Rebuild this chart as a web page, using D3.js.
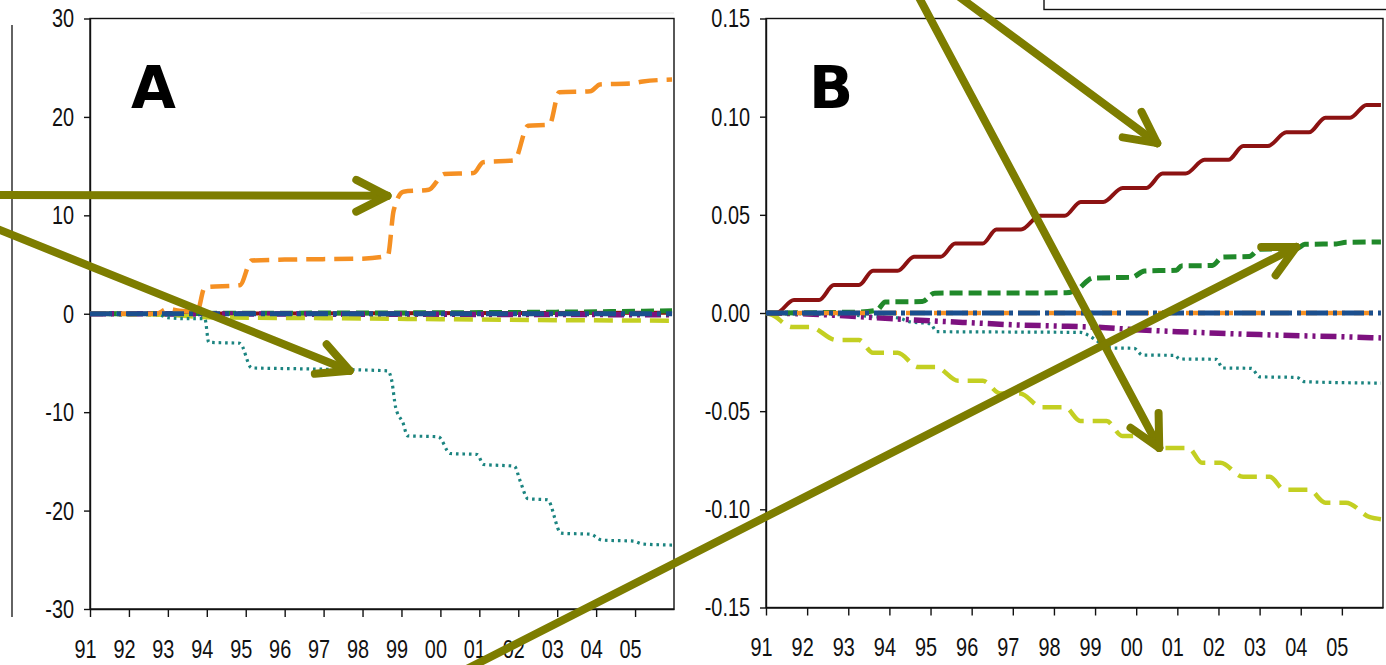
<!DOCTYPE html>
<html>
<head>
<meta charset="utf-8">
<script src="https://cdnjs.cloudflare.com/ajax/libs/d3/7.8.5/d3.min.js"></script>
<style>
    html, body { margin: 0; padding: 0; background: #fff; }
    svg { display: block; }
    .tick text { font-family: "Liberation Sans", Arial, sans-serif; font-size: 26.5px; fill: #111; }
    .tick line, .domain { stroke: #111; stroke-width: 1.4; }
    .frame { fill: none; stroke: #111; stroke-width: 1.4; }
    .panel-letter { font-family: "DejaVu Sans", sans-serif; font-weight: bold; font-size: 58px; fill: #000; }
    .arrow { stroke: #7d7d00; stroke-width: 8; stroke-linecap: round; fill: none; }
    .series { fill: none; stroke-linejoin: round; }
</style>
</head>
<body>
<svg id="chart" width="1386" height="665"></svg>
<script>
// tick years and their labels (shared by both panels)
const tickYears = [1991, 1992, 1993, 1994, 1995, 1996, 1997, 1998, 1999, 2000, 2001, 2002, 2003, 2004, 2005];
const tickLabels = ['91', '92', '93', '94', '95', '96', '97', '98', '99', '00', '01', '02', '03', '04', '05'];

const ticksA = [-30, -20, -10, 0, 10, 20, 30];
const ticksB = [-0.15, -0.10, -0.05, 0.00, 0.05, 0.10, 0.15];

// panel A: [year, value]
const aOrange = [[1991, 0], [1992.7, 0], [1993.0, 0.5], [1993.3, 0.3], [1993.75, 0.2], [1993.95, 2.7], [1994.85, 2.9],
    [1995.15, 5.4], [1996, 5.5], [1998.0, 5.6], [1998.65, 5.9], [1998.8, 10.5], [1999.05, 12.4], [1999.7, 12.6],
    [2000.1, 14.2], [2000.85, 14.3], [2001.1, 15.4], [2001.9, 15.6], [2002.25, 19.1], [2002.8, 19.2], [2003.05, 22.5],
    [2003.85, 22.6], [2004.1, 23.3], [2004.9, 23.4], [2005.2, 23.6], [2005.95, 23.8]];
const aTeal = [[1991, 0], [1992.7, 0], [1993.0, -0.4], [1993.5, -0.5], [1993.95, -0.5], [1994.05, -2.9], [1994.85, -3.0],
    [1995.15, -5.5], [1996.5, -5.6], [1998.65, -5.8], [1998.75, -6.8], [1998.85, -9.5], [1999.05, -11.2], [1999.15, -12.4],
    [1999.95, -12.5], [2000.25, -14.2], [2000.95, -14.3], [2001.1, -15.3], [2001.9, -15.5], [2002.05, -17.0],
    [2002.25, -18.8], [2002.75, -18.9], [2003.1, -22.3], [2003.85, -22.4], [2004.15, -23.0], [2004.95, -23.1],
    [2005.2, -23.4], [2005.95, -23.5]];
const aYellow = [[1991, 0], [1993, -0.1], [1994, -0.35], [1997, -0.45], [2000, -0.55], [2003, -0.65], [2005.95, -0.7]];
const aGreen = [[1991, 0], [1995, 0.05], [2000, 0.1], [2004, 0.2], [2005.95, 0.3]];
const aRed = [[1991, 0], [2005.95, 0.1]];
const aPurple = [[1991, 0], [2005.95, -0.1]];
const aBlue = [[1991, 0], [2005.95, 0]];

// panel B: [year, value]
const bRed = [[1991, 0], [1991.25, 0], [1991.68, 0.0066], [1992.29, 0.0066], [1992.65, 0.0142], [1993.26, 0.0142],
    [1993.6, 0.0215], [1994.2, 0.0215], [1994.6, 0.0287], [1995.25, 0.0287], [1995.6, 0.0354], [1996.27, 0.0354],
    [1996.6, 0.0425], [1997.2, 0.0425], [1997.66, 0.0495], [1998.26, 0.0495], [1998.65, 0.0566], [1999.2, 0.0566],
    [1999.67, 0.0637], [2000.25, 0.0637], [2000.64, 0.071], [2001.2, 0.071], [2001.66, 0.078], [2002.24, 0.078],
    [2002.6, 0.085], [2003.2, 0.085], [2003.65, 0.092], [2004.2, 0.092], [2004.6, 0.0995], [2005.2, 0.0995],
    [2005.6, 0.106], [2005.95, 0.106]];
const bYellow = [[1991, 0], [1991.15, -0.001], [1991.63, -0.0071], [1992.07, -0.0071], [1992.7, -0.0137], [1993.26, -0.0137],
    [1993.6, -0.0203], [1994.2, -0.0203], [1994.7, -0.0275], [1995.13, -0.0275], [1995.67, -0.0345], [1996.27, -0.0345],
    [1996.7, -0.041], [1997.18, -0.041], [1997.7, -0.048], [1998.27, -0.048], [1998.64, -0.055], [1999.28, -0.055],
    [1999.66, -0.0626], [2000.2, -0.0626], [2000.56, -0.0687], [2001.27, -0.0687], [2001.6, -0.0763], [2002.05, -0.0763],
    [2002.6, -0.0834], [2003.25, -0.0834], [2003.6, -0.09], [2004.2, -0.09], [2004.6, -0.0966], [2005.1, -0.0966],
    [2005.68, -0.104], [2005.95, -0.105]];
const bGreen = [[1991, 0], [1993.3, 0.0005], [1993.7, 0.0015], [1993.9, 0.0056], [1994.8, 0.0058], [1995.1, 0.0101],
    [1998.3, 0.0103], [1998.55, 0.0117], [1998.95, 0.0178], [1999.9, 0.0182], [2000.2, 0.0214], [2000.98, 0.0218],
    [2001.1, 0.024], [2001.85, 0.0242], [2002.1, 0.0285], [2002.75, 0.0288], [2003.0, 0.0325], [2003.9, 0.0328],
    [2004.1, 0.035], [2004.86, 0.0352], [2005.1, 0.036], [2005.95, 0.0362]];
const bTeal = [[1991, 0], [1992, -0.0005], [1993, -0.001], [1993.7, -0.002], [1994.2, -0.0025], [1994.5, -0.0045],
    [1995.0, -0.0055], [1995.15, -0.0095], [1997, -0.0097], [1998.65, -0.0099], [1998.85, -0.0115], [1999.1, -0.015],
    [1999.4, -0.0178], [1999.95, -0.018], [2000.15, -0.0214], [2000.95, -0.0216], [2001.05, -0.0234], [2001.95, -0.0236],
    [2002.1, -0.028], [2002.8, -0.0282], [2003.0, -0.0325], [2003.9, -0.0328], [2004.1, -0.035], [2005.95, -0.0357]];
const bPurple = [[1991, 0], [1992, -0.0005], [1993, -0.0015], [1994, -0.0028], [1995, -0.004], [1996, -0.005],
    [1997, -0.006], [1998, -0.0066], [1999, -0.0072], [2000, -0.0085], [2001, -0.0095], [2002, -0.0103],
    [2003, -0.011], [2004, -0.0116], [2005, -0.0121], [2005.95, -0.0127]];
const bOrange = [[1991, 0], [2005.95, 0]];
const bBlue = [[1991, 0], [2005.95, 0]];

const styles = {
    red:    { color: '#8c1212', width: 4, dash: null },
    orange: { color: '#f59023', width: 4.5, dash: '19,9' },
    teal:   { color: '#1b8480', width: 3.2, dash: '2.6,3.9' },
    yellow: { color: '#c3cf22', width: 4.5, dash: '19,9' },
    green:  { color: '#20892a', width: 5, dash: '13,6' },
    blue:   { color: '#1b4f8e', width: 5, dash: '22,5,4,5' },
    purple: { color: '#7d117f', width: 5.5, dash: '16,5,3,5,3,5' }
};

// the reference uses a tall, narrow face: squeeze Liberation Sans horizontally
const squeeze = 0.75;

const svg = d3.select('#chart');

class Panel {
    constructor(box, yDomain, yTicks, yFormat, letter) {
        this.box = box;
        this.x = d3.scaleLinear().domain([1991, 2006]).range([box.left, box.right]);
        this.y = d3.scaleLinear().domain(yDomain).range([box.bottom, box.top]);
        this.g = svg.append('g');

        this.g.append('rect')
            .attr('class', 'frame')
            .attr('x', box.left).attr('y', box.top)
            .attr('width', box.right - box.left).attr('height', box.bottom - box.top);

        const yAxis = this.g.append('g')
            .attr('transform', `translate(${box.left},0)`)
            .call(d3.axisLeft(this.y).tickValues(yTicks).tickFormat(yFormat).tickSize(6).tickSizeOuter(0));
        yAxis.selectAll('.tick text')
            .attr('x', -16 / squeeze)
            .attr('transform', `scale(${squeeze},1)`);

        const xAxis = this.g.append('g')
            .attr('transform', `translate(0,${box.bottom})`)
            .call(d3.axisBottom(this.x).tickValues(tickYears).tickFormat((d, i) => tickLabels[i]).tickSize(8).tickPadding(22).tickSizeOuter(0));
        xAxis.selectAll('.tick text')
            .attr('x', -5 / squeeze)
            .attr('transform', `scale(${squeeze},1)`);

        this.g.append('text')
            .attr('class', 'panel-letter')
            .attr('x', box.letterX)
            .attr('y', 108)
            .text(letter);
    }

    drawSeries(data, key) {
        const s = styles[key];
        const line = d3.line()
            .x(d => this.x(d[0]))
            .y(d => this.y(d[1]))
            .curve(d3.curveMonotoneX);
        this.g.append('path')
            .datum(data)
            .attr('class', 'series')
            .attr('d', line)
            .attr('stroke', s.color)
            .attr('stroke-width', s.width)
            .attr('stroke-dasharray', s.dash);
    }

    px(year, value) {
        return [this.x(year), this.y(value)];
    }
}

// stray border of the neighbouring figure and the cut-off legend box
svg.append('line').attr('x1', 12).attr('x2', 12).attr('y1', 25).attr('y2', 617)
    .attr('stroke', '#222').attr('stroke-width', 1.4);
svg.append('line').attr('x1', 360).attr('x2', 674).attr('y1', 13).attr('y2', 13)
    .attr('stroke', '#e4e4e4').attr('stroke-width', 1.2);
svg.append('rect').attr('x', 1044).attr('y', -10).attr('width', 350).attr('height', 19.5)
    .attr('fill', '#fff').attr('stroke', '#111').attr('stroke-width', 1.4);

const panelA = new Panel({ left: 90, right: 674, top: 18.5, bottom: 609, letterX: 131 },
    [-30, 30], ticksA, d => String(d), 'A');
const panelB = new Panel({ left: 766, right: 1383, top: 18.5, bottom: 607.5, letterX: 809 },
    [-0.15, 0.15], ticksB, d => d.toFixed(2), 'B');

panelA.drawSeries(aRed, 'red');
panelA.drawSeries(aGreen, 'green');
panelA.drawSeries(aPurple, 'purple');
panelA.drawSeries(aYellow, 'yellow');
panelA.drawSeries(aTeal, 'teal');
panelA.drawSeries(aOrange, 'orange');
panelA.drawSeries(aBlue, 'blue');

panelB.drawSeries(bYellow, 'yellow');
panelB.drawSeries(bTeal, 'teal');
panelB.drawSeries(bPurple, 'purple');
panelB.drawSeries(bGreen, 'green');
panelB.drawSeries(bRed, 'red');
panelB.drawSeries(bOrange, 'orange');
panelB.drawSeries(bBlue, 'blue');

// annotation arrows: tip sits on a curve (data coords), tail runs off the page edge
const arrows = [
    { tip: panelA.px(1998.64, 11.98), tail: [-10, 195] },
    { tip: panelA.px(1997.67, -5.79), tail: [-10, 226] },
    { tip: panelB.px(2000.51, 0.0865), tail: [950, -10] },
    { tip: panelB.px(2000.56, -0.0687), tail: [915, -10] },
    { tip: panelB.px(2003.89, 0.0336), tail: [455, 675] }
];

const headLen = 35;
const headAngle = 27 * Math.PI / 180;
const arrowLayer = svg.append('g');

arrows.forEach(a => {
    const [tx, ty] = a.tip;
    const back = Math.atan2(a.tail[1] - ty, a.tail[0] - tx);
    arrowLayer.append('line')
        .attr('class', 'arrow')
        .attr('x1', a.tail[0]).attr('y1', a.tail[1])
        .attr('x2', tx).attr('y2', ty);
    [-1, 1].forEach(s => {
        const ang = back + s * headAngle;
        arrowLayer.append('line')
            .attr('class', 'arrow')
            .attr('x1', tx).attr('y1', ty)
            .attr('x2', tx + headLen * Math.cos(ang))
            .attr('y2', ty + headLen * Math.sin(ang));
    });
});
</script>
</body>
</html>
